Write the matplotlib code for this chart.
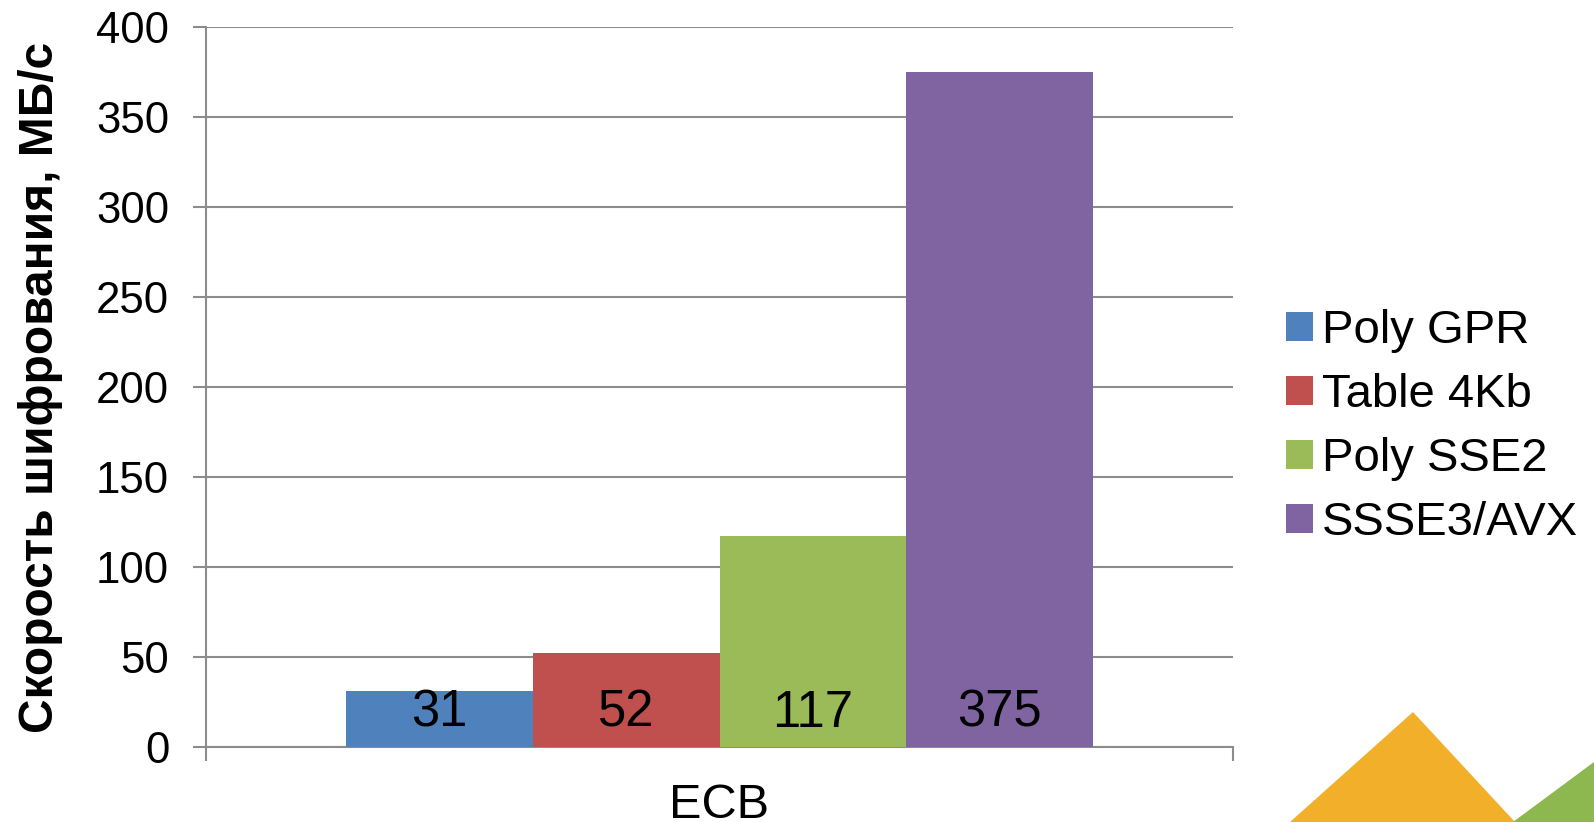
import matplotlib.pyplot as plt
from matplotlib.patches import Polygon

# data
category = ['ECB']
series = ['Poly GPR', 'Table 4Kb', 'Poly SSE2', 'SSSE3/AVX']
values = [31, 52, 117, 375]
colors = ['#4F81BD', '#C0504D', '#9BBB59', '#8064A2']

plt.rcParams['font.family'] = ['Liberation Sans', 'DejaVu Sans']

W, H = 1594, 822
fig = plt.figure(figsize=(W / 100, H / 100), dpi=100)
ax = fig.add_axes([206 / W, 1 - 747 / H, (1233 - 206) / W, (747 - 27) / H])

grid_c = '#8c8c8c'
w = 0.182
for i, (name, v, c) in enumerate(zip(series, values, colors)):
    x = (i - 1.5) * w
    ax.bar(x, v, width=w, color=c, label=name, zorder=3)
    ax.annotate(str(v), (x, 0), xytext=(0, 14.5), textcoords='offset points',
                ha='center', va='baseline', fontsize=36.5, color='black', zorder=4)

ax.set_xlim(-0.5, 0.5)
ax.set_ylim(0, 400)
ax.set_yticks(range(0, 401, 50))
ax.yaxis.grid(True, color=grid_c, linewidth=1.5, zorder=0)
ax.set_xticks([0])
ax.set_xticklabels(category, fontsize=35)
ax.set_xticks([-0.5, 0.5], minor=True)
ax.tick_params(axis='x', which='major', length=0, pad=26)
ax.tick_params(axis='x', which='minor', length=10, width=1.5, color=grid_c)
ax.tick_params(axis='y', length=9.5, width=1.5, color=grid_c, labelsize=31.5, pad=17)

for s in ['top', 'right']:
    ax.spines[s].set_visible(False)
for s in ['left', 'bottom']:
    ax.spines[s].set_color(grid_c)
    ax.spines[s].set_linewidth(1.5)

ax.set_ylabel('Скорость шифрования, МБ/с', fontsize=34.5, fontweight='bold')
ax.yaxis.set_label_coords(63 / W, 1 - 387 / H, transform=fig.transFigure)

leg = ax.legend(loc='center left', bbox_to_anchor=(1267 / W, 1 - 427 / H),
                bbox_transform=fig.transFigure, frameon=False, fontsize=34,
                handlelength=0.57, handleheight=0.57, handletextpad=0.2,
                labelspacing=0.42, borderaxespad=0)

# decorative corner shapes
def fc(pts):
    return [(x / W, 1 - y / H) for x, y in pts]

fig.patches.append(Polygon(fc([(1290, 822), (1413, 712), (1515, 822)]),
                           closed=True, transform=fig.transFigure,
                           facecolor='#F2B02A', edgecolor='none'))
fig.patches.append(Polygon(fc([(1513, 822), (1594, 762), (1594, 822)]),
                           closed=True, transform=fig.transFigure,
                           facecolor='#8DB850', edgecolor='none'))

fig.savefig('out.png', dpi=100)
